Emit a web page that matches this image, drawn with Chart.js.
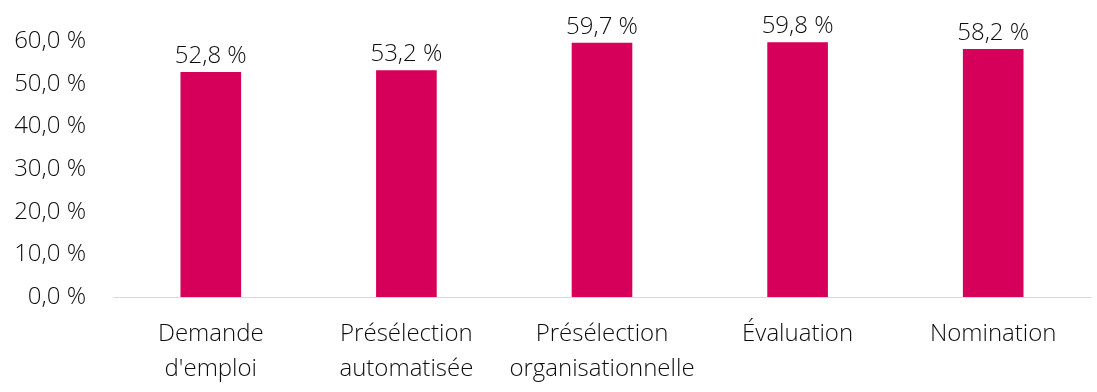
<!DOCTYPE html>
<html>
<head>
<meta charset="utf-8">
<script src="https://cdn.jsdelivr.net/npm/chart.js"></script>
<style>
  html, body { margin: 0; padding: 0; background: #fff; }
  #wrap { width: 1097px; height: 392px; }
</style>
</head>
<body>
<div id="wrap"><canvas id="barChart"></canvas></div>
<script>

const categories = [
    ['Demande', "d'emploi"],
    ['Présélection', 'automatisée'],
    ['Présélection', 'organisationnelle'],
    'Évaluation',
    'Nomination'
];

const values = [52.8, 53.2, 59.7, 59.8, 58.2];

const yTicks = [0, 10, 20, 30, 40, 50, 60];

const barColor = '#d6005a';
const fontFamily = "'Open Sans', 'Noto Sans', sans-serif";
const textColor = '#0d0d0d';

function frPercent(v) {
    return v.toFixed(1).replace('.', ',') + ' %';
}

const valueLabels = {
    id: 'valueLabels',
    afterDatasetsDraw(chart) {
        const ctx = chart.ctx;
        const meta = chart.getDatasetMeta(0);
        ctx.save();
        ctx.font = '300 24px ' + fontFamily;
        ctx.fillStyle = textColor;
        ctx.textAlign = 'center';
        ctx.textBaseline = 'alphabetic';
        meta.data.forEach(function(bar, i) {
            ctx.fillText(frPercent(values[i]), bar.x, bar.y - 9);
        });
        ctx.restore();
    }
};

new Chart(document.getElementById('barChart'), {

    type: 'bar',

    data: {
        labels: categories,
        datasets: [{
            data: values,
            backgroundColor: barColor,
            barPercentage: 0.31,
            categoryPercentage: 1.0
        }]
    },

    options: {
        responsive: true,
        maintainAspectRatio: false,
        animation: false,
        layout: {
            padding: { top: 35, right: 6, bottom: 0, left: 0 }
        },
        plugins: {
            legend: { display: false },
            tooltip: { enabled: false }
        },
        scales: {
            x: {
                grid: { display: false, drawTicks: false },
                border: { display: true, color: '#d9d9d9', width: 1 },
                ticks: {
                    color: textColor,
                    padding: 20,
                    maxRotation: 0,
                    autoSkip: false,
                    font: { family: fontFamily, size: 24, weight: '300', lineHeight: 1.46 }
                },
                afterFit: function(scale) { scale.height = 95; }
            },
            y: {
                min: 0,
                max: 60,
                grid: { display: false, drawTicks: false },
                border: { display: false },
                afterBuildTicks: function(scale) {
                    scale.ticks = yTicks.map(function(v) { return { value: v }; });
                },
                ticks: {
                    color: textColor,
                    padding: 27,
                    font: { family: fontFamily, size: 24, weight: '300' },
                    callback: function(v) { return frPercent(v); }
                },
                afterFit: function(scale) { scale.width = 113; }
            }
        }
    },

    plugins: [valueLabels]

});

</script>
</body>
</html>
